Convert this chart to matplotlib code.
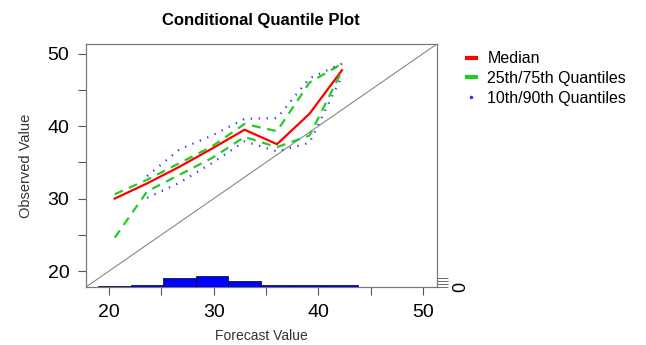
import numpy as np
import matplotlib
matplotlib.use("Agg")
import matplotlib.pyplot as plt
from matplotlib.lines import Line2D

plt.rcParams["font.family"] = ["Liberation Sans", "DejaVu Sans"]

# bin centres of forecast value
forecast = [20.55, 23.65, 26.75, 29.85, 32.95, 36.05, 39.15, 42.25]
median = [30.0, 32.1, 34.4, 36.9, 39.5, 37.5, 41.7, 47.7]
q25 = [24.6, 31.0, 33.3, 35.6, 38.5, 37.1, 38.7, 47.6]
q75 = [30.6, 32.6, 34.9, 37.2, 40.3, 39.3, 46.0, 48.6]
q10 = [np.nan, 30.1, 32.2, 34.9, 37.9, 36.5, 37.7, 46.9]
q90 = [np.nan, 33.1, 36.8, 38.7, 41.0, 41.1, 46.6, 48.6]

# sample size histogram of forecasts
hist_edges = [19.0, 22.1, 25.2, 28.3, 31.4, 34.5, 37.6, 40.7, 43.8]
hist_counts = [35, 60, 310, 390, 215, 70, 70, 80]

lims = (17.8, 51.3)
red, green, blue = "red", "#22cc22", "#3333ee"

fig = plt.figure(figsize=(6.46, 3.45), dpi=100)
ax = fig.add_axes([0.133, 0.168, 0.543, 0.704])

ax.plot(lims, lims, color="#888888", lw=0.8)
ax.plot(forecast, median, color=red, lw=1.6)
ax.plot(forecast, q25, color=green, lw=1.6, ls=(0, (4, 3)))
ax.plot(forecast, q75, color=green, lw=1.6, ls=(0, (4, 3)))
ax.plot(forecast, q10, color=blue, lw=1.6, ls=(0, (0.6, 3)))
ax.plot(forecast, q90, color=blue, lw=1.6, ls=(0, (0.6, 3)))

ax.set_xlim(lims)
ax.set_ylim(lims)
ticks = [20, 25, 30, 35, 40, 45, 50]
ax.set_xticks(ticks)
ax.set_xticklabels(["20", "", "30", "", "40", "", "50"], fontsize=14)
ax.set_yticks(ticks)
ax.set_yticklabels(["20", "", "30", "", "40", "", "50"], fontsize=14)
ax.tick_params(length=6, width=0.8, color="#555555", pad=6)
for s in ax.spines.values():
    s.set_color("#777777")
    s.set_linewidth(0.8)

ax.set_xlabel("Forecast Value", fontsize=10, color="#333333", labelpad=6)
ax.set_ylabel("Observed Value", fontsize=10.5, color="#333333", labelpad=10)
ax.set_title("Conditional Quantile Plot", fontsize=12, fontweight="bold", pad=14)

# histogram on a second axis
ax2 = ax.twinx()
widths = np.diff(hist_edges)
ax2.bar(hist_edges[:-1], hist_counts, width=widths, align="edge",
        color="#0000ff", edgecolor="black", linewidth=0.5)
ax2.set_ylim(0, 8380)
ax2.set_yticks([0, 100, 200, 300])
ax2.set_yticklabels(["0", "", "", ""], fontsize=13, rotation=90, va="center")
ax2.tick_params(length=8, width=0.6, color="#555555", pad=3)
for s in ax2.spines.values():
    s.set_color("#777777")
    s.set_linewidth(0.8)

handles = [
    Line2D([], [], color=red, lw=3),
    Line2D([], [], color=green, lw=3),
    Line2D([], [], color=blue, ls="none", marker=".", markersize=3),
]
labels = ["Median", "25th/75th Quantiles", "10th/90th Quantiles"]
fig.legend(handles, labels, loc="upper left", bbox_to_anchor=(0.7, 0.893),
           frameon=False, fontsize=11.5, handlelength=0.6, handletextpad=0.7,
           labelspacing=0.3)

fig.savefig("out.png", dpi=100)
